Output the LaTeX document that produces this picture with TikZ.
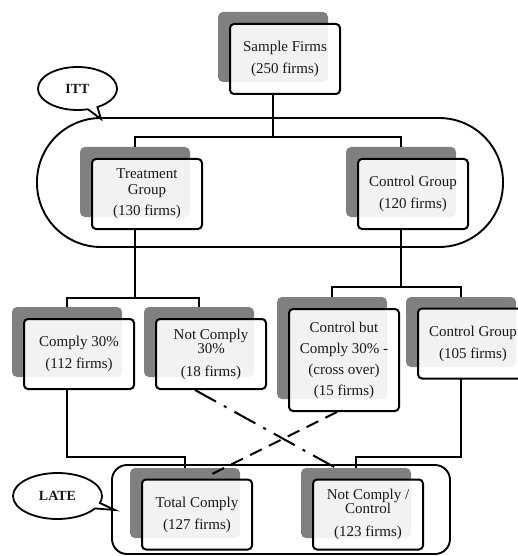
\documentclass[tikz,border=0pt]{standalone}
\usepackage{fontspec}
\setmainfont{Liberation Serif}
\usetikzlibrary{shapes.callouts,calc}
\begin{document}
\begin{tikzpicture}[x=1pt,y=-1pt,
  box/.style={draw=black, line width=2pt, rounded corners=4pt, fill=white,
    fill opacity=0.9, text opacity=1, minimum width=110pt, minimum height=70pt,
    inner sep=0pt, align=center, text=black!90,
    font=\fontsize{15}{16}\selectfont},
  shade/.style={fill=black!50, rounded corners=5pt, minimum width=110pt,
    minimum height=70pt, inner sep=0pt},
  conn/.style={line width=1.9pt},
  frame/.style={draw=black, line width=1.9pt, inner sep=0pt},
  bubble/.style={ellipse callout, draw=black, line width=1.8pt, fill=white,
    inner sep=0pt, font=\bfseries\fontsize{14}{14}\selectfont, text=black!90}
]
\useasboundingbox (0,0) rectangle (518,556);

% group frames
\node[frame, rounded corners=64pt, minimum width=466pt, minimum height=129pt] (ittframe) at (270,182.5) {};
\node[frame, rounded corners=15pt, minimum width=338pt, minimum height=89pt] (lateframe) at (281,509.5) {};

% joints
\coordinate (j1) at (273,137);
\coordinate (j2) at (135,298);
\coordinate (j3) at (401,287);
\coordinate (j4) at (185,457);
\coordinate (j5) at (356,457);

% shadows
\node[shade] (sampleS)   at (273,47) {};
\node[shade] (treatS)    at (135,182) {};
\node[shade] (controlS)  at (401,182) {};
\node[shade] (complyS)   at (67,342) {};
\node[shade] (notcompS)  at (199,342) {};
\node[shade, minimum height=102pt] (ctrlbutS) at (332,348) {};
\node[shade] (ctrl105S)  at (461,332) {};
\node[shade] (totalS)    at (185,503) {};
\node[shade] (notctrlS)  at (356,503) {};

% connectors
\draw[conn] (sampleS |- 0,94) -- (j1);
\draw[conn] (treatS.north) |- (j1) -| (controlS.north);
\draw[conn] (treatS |- 0,229) -- (j2);
\draw[conn] (complyS.north) |- (j2) -| (notcompS.north);
\draw[conn] (controlS |- 0,229) -- (j3);
\draw[conn] (ctrlbutS.north) |- (j3) -| (ctrl105S.north);
\draw[conn] (complyS |- 0,389) |- (j4) -- (totalS.north);
\draw[conn] (ctrl105S |- 0,378) |- (j5) -- (notctrlS.north);

% boxes
\node[box] (sample)  at (285,59)  {Sample Firms\\[6pt](250 firms)};
\node[box] (treat)   at (147,194) {Treatment\\Group\\[5pt](130 firms)};
\node[box] (control) at (413,194) {Control Group\\[6pt](120 firms)};
\node[box] (comply)  at (79,354)  {Comply 30\%\\[6pt](112 firms)};
\node[box] (notcomp) at (211,354) {Not Comply\\[-2pt]30\%\\[7pt](18 firms)};
\node[box, minimum height=102pt] (ctrlbut) at (344,360) {Control but\\[5pt]Comply 30\% -\\[5pt](cross over)\\[5pt](15 firms)};
\node[box] (ctrl105) at (473,343.5) {Control Group\\[6pt](105 firms)};
\node[box] (total)   at (197,514.5) {Total Comply\\[6pt](127 firms)};
\node[box] (notctrl) at (368,514.5) {Not Comply /\\[-2pt]Control\\[7pt](123 firms)};

% cross-over lines
\coordinate (ddend) at (336,468);
\coordinate (dsend) at (210,475);
\draw[line width=2pt, dash pattern=on 24pt off 9pt on 3pt off 9pt]
  ($(notcomp.south)+(-16,0)$) -- (ddend);
\draw[line width=2pt, dash pattern=on 13pt off 8pt]
  ($(ctrlbut.south)+(-7,0)$) -- (dsend);

% callouts
\node[bubble, minimum width=79pt, minimum height=43pt,
  callout absolute pointer={(101,119)}] (itt) at (77.5,88.5) {ITT};
\node[bubble, minimum width=89pt, minimum height=46pt,
  callout absolute pointer={(115,510)}] (late) at (57.5,496) {LATE};
\end{tikzpicture}
\end{document}
